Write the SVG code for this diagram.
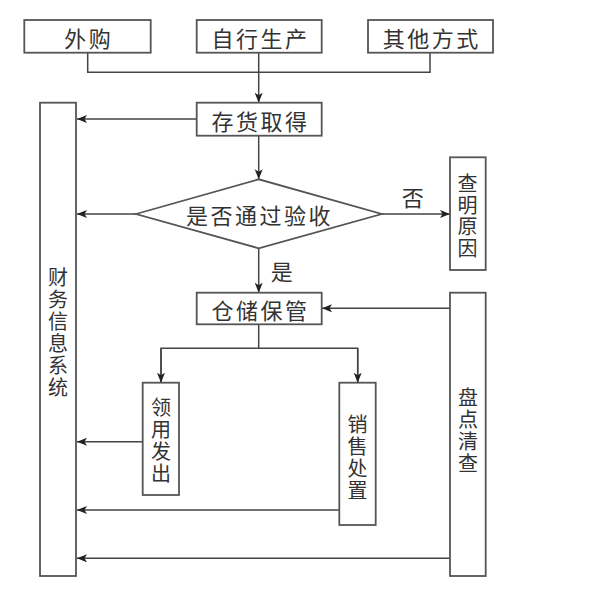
<svg xmlns="http://www.w3.org/2000/svg" width="589" height="600" viewBox="0 0 589 600">
<defs>
<marker id="arr" markerUnits="userSpaceOnUse" markerWidth="11" markerHeight="9" refX="10" refY="4" orient="auto">
<path d="M0,0 L10,4 L0,8 L2.5,4 z" fill="#222"/>
</marker>
<style>
.box{fill:#fff;stroke:#555;stroke-width:1.8}
.ln{fill:none;stroke:#444;stroke-width:1.5}
.ar{fill:none;stroke:#444;stroke-width:1.5;marker-end:url(#arr)}
.t{font-family:"Noto Sans CJK SC","Liberation Serif",sans-serif;font-size:22px;fill:#333;text-anchor:middle;dominant-baseline:central;letter-spacing:2.5px}
.v{font-family:"Noto Sans CJK SC","Liberation Serif",sans-serif;font-size:20px;fill:#333;text-anchor:middle;dominant-baseline:central}
</style>
</defs>
<rect width="589" height="600" fill="#fff"/>
<g id="connectors">
<polyline class="ln" points="87.7,52.7 87.7,72.3 430,72.3 430,52.7"/>
<line class="ar" x1="258.7" y1="52.7" x2="258.7" y2="102.7"/>
<line class="ar" x1="196.7" y1="119" x2="77" y2="119"/>
<line class="ar" x1="258.7" y1="135.7" x2="258.7" y2="179.3"/>
<line class="ar" x1="136" y1="214" x2="77" y2="214"/>
<line class="ar" x1="381.7" y1="214" x2="450" y2="214"/>
<line class="ar" x1="258.7" y1="248.3" x2="258.7" y2="292.7"/>
<line class="ar" x1="450" y1="308.3" x2="322" y2="308.3"/>
<polyline class="ln" points="258.7,324.3 258.7,348.3"/>
<polyline class="ln" points="161,382.7 161,348.3 357.7,348.3 357.7,382.7"/>
<line class="ar" x1="161" y1="348.3" x2="161" y2="382.7"/>
<line class="ar" x1="357.7" y1="348.3" x2="357.7" y2="382.7"/>
<line class="ar" x1="142.7" y1="441.7" x2="77" y2="441.7"/>
<line class="ar" x1="339.3" y1="510" x2="77" y2="510"/>
<line class="ar" x1="450" y1="558.3" x2="77" y2="558.3"/>
<text class="t" x="414" y="196">否</text>
<text class="t" x="283" y="270">是</text>
</g>
<g id="waigou"><rect class="box" x="24.3" y="20" width="126.4" height="32.7"/><text class="t" x="88.8" y="37">外购</text></g>
<g id="zixing"><rect class="box" x="196.7" y="20" width="125" height="32.7"/><text class="t" x="260.4" y="37">自行生产</text></g>
<g id="qita"><rect class="box" x="368" y="20" width="125" height="32.7"/><text class="t" x="431.7" y="37">其他方式</text></g>
<g id="cunhuo"><rect class="box" x="196.7" y="102.7" width="125" height="33"/><text class="t" x="260.4" y="119.5">存货取得</text></g>
<g id="yanshou"><polygon class="box" points="136,214 258.7,179.3 381.7,214 258.7,248.3"/><text class="t" x="259.5" y="214">是否通过验收</text></g>
<g id="chaming"><rect class="box" x="450" y="157.3" width="35.7" height="112.7"/>
<text class="v"><tspan x="467.5" y="182">查</tspan><tspan x="467.5" y="203.5">明</tspan><tspan x="467.5" y="225">原</tspan><tspan x="467.5" y="246.5">因</tspan></text></g>
<g id="cangchu"><rect class="box" x="196.7" y="292.7" width="125" height="31.6"/><text class="t" x="260.4" y="309">仓储保管</text></g>
<g id="caiwu"><rect class="box" x="40" y="102.7" width="36" height="473.3"/>
<text class="v"><tspan x="58" y="276">财</tspan><tspan x="58" y="298">务</tspan><tspan x="58" y="320">信</tspan><tspan x="58" y="342">息</tspan><tspan x="58" y="364">系</tspan><tspan x="58" y="386">统</tspan></text></g>
<g id="lingyong"><rect class="box" x="142.7" y="382.7" width="36.3" height="112.3"/>
<text class="v"><tspan x="161" y="406">领</tspan><tspan x="161" y="428">用</tspan><tspan x="161" y="450">发</tspan><tspan x="161" y="472">出</tspan></text></g>
<g id="xiaoshou"><rect class="box" x="339.3" y="382.7" width="36.4" height="142.3"/>
<text class="v"><tspan x="357.5" y="423">销</tspan><tspan x="357.5" y="445">售</tspan><tspan x="357.5" y="467">处</tspan><tspan x="357.5" y="489">置</tspan></text></g>
<g id="pandian"><rect class="box" x="450" y="292.7" width="35.7" height="283.3"/>
<text class="v"><tspan x="468" y="396">盘</tspan><tspan x="468" y="418">点</tspan><tspan x="468" y="440">清</tspan><tspan x="468" y="462">查</tspan></text></g>
</svg>
